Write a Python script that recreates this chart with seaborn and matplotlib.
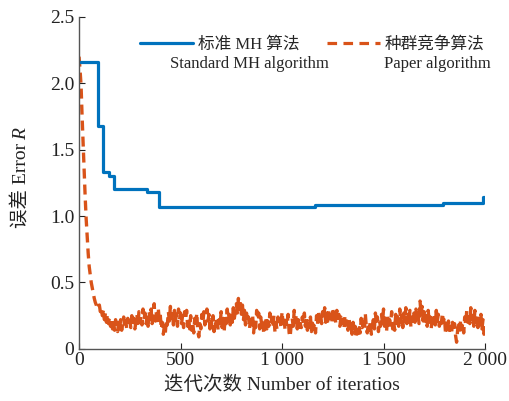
import numpy as np
import pandas as pd
import matplotlib
matplotlib.use('Agg')
import matplotlib.pyplot as plt
import seaborn as sns
from matplotlib.lines import Line2D

# ================= 配置 =================
sns.set_theme(style="ticks")
plt.rcParams['font.family'] = ['Liberation Serif', 'Noto Sans CJK SC']
plt.rcParams['axes.unicode_minus'] = False
# =======================================

# --- 标准 MH 算法 (阶梯) ---
mh_iter = [0, 95, 118, 148, 172, 335, 394, 950, 1163, 1793, 1988, 2000]
mh_err = [2.16, 1.68, 1.33, 1.30, 1.20, 1.18, 1.065, 1.07, 1.08, 1.097, 1.14, 1.14]

# --- 种群竞争算法 (每 5 次迭代) ---
pc_iter = list(range(0, 2001, 5))
pc_err = [
    # 0 - 145
    2.20, 2.10, 1.98, 1.75, 1.55, 1.35, 1.15, 0.98, 0.85, 0.72,
    0.62, 0.56, 0.50, 0.46, 0.42, 0.38, 0.35, 0.33, 0.30, 0.32,
    0.33, 0.28, 0.31, 0.25, 0.29, 0.22, 0.27, 0.20, 0.26, 0.19,
    # 150 - 1945
    0.24, 0.17, 0.23, 0.15, 0.21, 0.14, 0.22, 0.16, 0.13, 0.20, 0.15, 0.22, 0.14, 0.19, 0.24, 0.16, 0.21, 0.15, 0.23, 0.17,
    0.21, 0.16, 0.25, 0.18, 0.23, 0.15, 0.20, 0.26, 0.17, 0.28, 0.20, 0.25, 0.18, 0.30, 0.22, 0.27, 0.19, 0.24, 0.17, 0.28,
    0.22, 0.30, 0.19, 0.26, 0.34, 0.21, 0.28, 0.18, 0.31, 0.22, 0.26, 0.15, 0.20, 0.11, 0.17, 0.12, 0.22, 0.18, 0.28, 0.21,
    0.32, 0.23, 0.28, 0.18, 0.29, 0.21, 0.26, 0.17, 0.30, 0.22, 0.27, 0.19, 0.25, 0.16, 0.28, 0.22, 0.29, 0.17, 0.23, 0.15,
    0.25, 0.14, 0.20, 0.12, 0.23, 0.17, 0.27, 0.13, 0.09, 0.19, 0.15, 0.26, 0.20, 0.28, 0.18, 0.25, 0.30, 0.21, 0.26, 0.15,
    0.22, 0.16, 0.25, 0.13, 0.21, 0.17, 0.24, 0.14, 0.22, 0.18, 0.28, 0.16, 0.23, 0.13, 0.25, 0.19, 0.30, 0.21, 0.26, 0.18,
    0.27, 0.20, 0.31, 0.23, 0.28, 0.34, 0.27, 0.38, 0.30, 0.36, 0.26, 0.33, 0.22, 0.29, 0.18, 0.27, 0.20, 0.24, 0.15, 0.25,
    0.19, 0.26, 0.12, 0.21, 0.16, 0.29, 0.22, 0.27, 0.15, 0.24, 0.18, 0.22, 0.11, 0.19, 0.24, 0.15, 0.21, 0.17, 0.27, 0.19,
    0.23, 0.16, 0.25, 0.13, 0.20, 0.15, 0.24, 0.18, 0.22, 0.16, 0.28, 0.19, 0.24, 0.14, 0.21, 0.17, 0.26, 0.12, 0.09, 0.18,
    0.23, 0.17, 0.29, 0.20, 0.25, 0.15, 0.22, 0.13, 0.19, 0.16, 0.24, 0.19, 0.27, 0.17, 0.23, 0.14, 0.21, 0.16, 0.24, 0.13,
    0.22, 0.15, 0.19, 0.12, 0.25, 0.18, 0.29, 0.21, 0.26, 0.19, 0.28, 0.22, 0.31, 0.20, 0.27, 0.18, 0.29, 0.23, 0.26, 0.20,
    0.31, 0.22, 0.27, 0.19, 0.29, 0.23, 0.26, 0.17, 0.24, 0.19, 0.22, 0.15, 0.25, 0.18, 0.21, 0.14, 0.23, 0.16, 0.19, 0.11,
    0.20, 0.13, 0.17, 0.08, 0.14, 0.10, 0.16, 0.12, 0.23, 0.16, 0.20, 0.14, 0.27, 0.17, 0.12, 0.19, 0.14, 0.21, 0.11, 0.18,
    0.22, 0.15, 0.27, 0.18, 0.24, 0.13, 0.21, 0.17, 0.26, 0.19, 0.30, 0.17, 0.23, 0.13, 0.25, 0.16, 0.22, 0.18, 0.28, 0.15,
    0.21, 0.14, 0.26, 0.19, 0.24, 0.17, 0.30, 0.20, 0.25, 0.16, 0.27, 0.21, 0.31, 0.19, 0.26, 0.18, 0.29, 0.16, 0.24, 0.18,
    0.27, 0.20, 0.30, 0.22, 0.26, 0.19, 0.36, 0.25, 0.32, 0.21, 0.28, 0.18, 0.25, 0.17, 0.29, 0.20, 0.24, 0.15, 0.26, 0.19,
    0.25, 0.18, 0.29, 0.21, 0.26, 0.17, 0.23, 0.19, 0.27, 0.20, 0.24, 0.13, 0.19, 0.12, 0.21, 0.14, 0.17, 0.11, 0.20, 0.15,
    0.19, 0.10, 0.05, 0.14, 0.18, 0.13, 0.22, 0.15, 0.19, 0.12, 0.24, 0.18, 0.29, 0.20, 0.26, 0.19, 0.31, 0.22, 0.27, 0.17,
    # 1950 - 2000
    0.29, 0.20, 0.25, 0.16, 0.23, 0.18, 0.26, 0.15, 0.22, 0.11, 0.13,
]
assert len(pc_iter) == len(pc_err)

x_ticks = [0, 500, 1000, 1500, 2000]
x_ticklabels = ['0', '500', '1 000', '1 500', '2 000']
y_ticks = [0, 0.5, 1.0, 1.5, 2.0, 2.5]
y_ticklabels = ['0', '0.5', '1.0', '1.5', '2.0', '2.5']

blue = '#0072BD'
orange = '#D95319'

fig = plt.figure(figsize=(5.10, 4.01), dpi=100)
ax = fig.add_axes([0.155, 0.13, 0.796, 0.828])

sns.lineplot(x=pc_iter, y=pc_err, ax=ax, color=orange, lw=2.4,
             linestyle=(0, (3, 1.8)))
sns.lineplot(x=mh_iter, y=mh_err, ax=ax, color=blue, lw=2.3,
             drawstyle='steps-post')

ax.set_xlim(0, 2000)
ax.set_ylim(0, 2.5)
ax.set_xticks(x_ticks)
ax.set_xticklabels(x_ticklabels)
ax.set_yticks(y_ticks)
ax.set_yticklabels(y_ticklabels)
ax.tick_params(direction='in', length=4, width=0.8, labelsize=14, colors='#222222')
ax.tick_params(axis='x', pad=2)
for side in ['top', 'right']:
    ax.spines[side].set_visible(False)
for side in ['left', 'bottom']:
    ax.spines[side].set_color('#555555')
    ax.spines[side].set_linewidth(1.0)

ax.set_xlabel('迭代次数 Number of iteratios', fontsize=14, labelpad=5)

# y 轴标签: 中文 + 斜体 R
ylab = fig.text(22 / 510, 1 - 228 / 401, '误差 Error', rotation=90,
                ha='center', va='bottom', fontsize=14, color='#222222')
fig.canvas.draw()
bb = ylab.get_window_extent()
fig.text(22 / 510, (bb.y1 + 3) / fig.bbox.height, 'R', rotation=90,
         ha='center', va='bottom', fontsize=14, style='italic', color='#222222')

# --- 图例 ---
handles = [Line2D([], [], color=blue, lw=2.3),
           Line2D([], [], color=orange, lw=2.3, linestyle=(0, (3, 2)))]
ax.legend(handles, ['标准 MH 算法', '种群竞争算法'], ncol=2, frameon=False,
          loc='center left', bbox_to_anchor=(140 / 510, 1 - 45 / 401),
          bbox_transform=fig.transFigure, fontsize=12,
          handlelength=3.2, handletextpad=0.3, columnspacing=1.6,
          borderaxespad=0, borderpad=0)
fig.text(249 / 510, 1 - 64 / 401, 'Standard MH algorithm', ha='center', va='center', fontsize=12)
fig.text(437 / 510, 1 - 64 / 401, 'Paper algorithm', ha='center', va='center', fontsize=12)

fig.savefig('out.png', dpi=100)
